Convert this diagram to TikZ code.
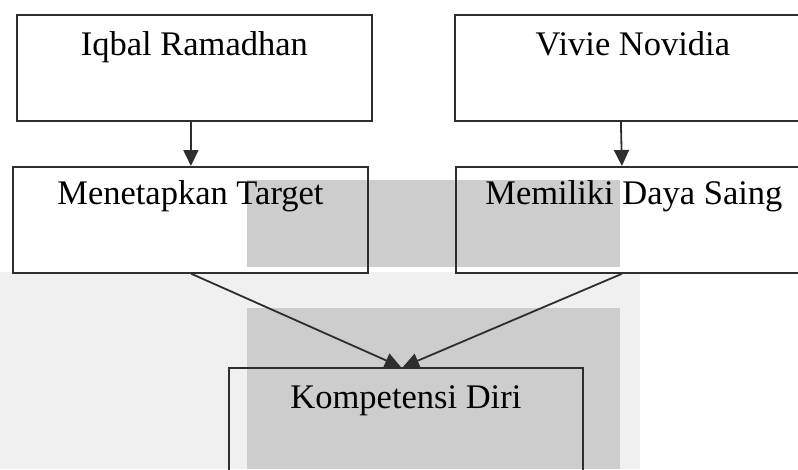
\documentclass[tikz,border=0pt]{standalone}
\usepackage{fontspec}
\setmainfont{Liberation Serif}
\usetikzlibrary{arrows.meta}
\definecolor{inkline}{HTML}{2E2E2E}
\definecolor{panelgrey}{HTML}{CDCDCD}
\definecolor{panelpale}{HTML}{F0F0F0}
\tikzset{
  topbox/.style={draw=inkline, line width=1.8pt, rectangle, inner sep=0pt,
    minimum width=355pt, text height=41pt, text depth=65pt,
    font=\fontsize{34.5}{40}\selectfont},
  midbox/.style={topbox, text height=38pt, text depth=68pt},
  link/.style={draw=inkline, line width=1.8pt,
    -{Triangle[length=16pt,width=15pt]}}
}
\begin{document}
\begin{tikzpicture}[x=1pt,y=-1pt]
  \useasboundingbox (0,0) rectangle (798,469);
  % shaded background panels
  \fill[panelpale] (0,272) rectangle (640,469);
  \fill[panelgrey] (247,180) rectangle (620,267);
  \fill[panelgrey] (247,308) rectangle (620,469);

  % boxes
  \node[topbox, anchor=north west] (iqbal) at (16,14) {Iqbal Ramadhan};
  \node[topbox, anchor=north west, minimum width=356pt] (vivie) at (454,14) {Vivie Novidia};
  \node[midbox, anchor=north west] (target) at (12,166) {Menetapkan Target};
  \node[midbox, anchor=north west, minimum width=356pt] (saing) at (455,166) {Memiliki Daya Saing};
  \node[topbox, anchor=north west, minimum width=354pt] (diri) at (228,367) {Kompetensi Diri};

  % connectors
  \draw[link] ([xshift=-3.5pt]iqbal.south) -- ([xshift=0.5pt]target.north);
  \draw[link] ([xshift=-12pt]vivie.south) -- ([xshift=-12pt]saing.north);
  \draw[link] ([xshift=1pt]target.south) -- ([xshift=-5pt]diri.north);
  \draw[link] ([xshift=-12pt]saing.south) -- ([xshift=-3pt]diri.north);
\end{tikzpicture}
\end{document}
